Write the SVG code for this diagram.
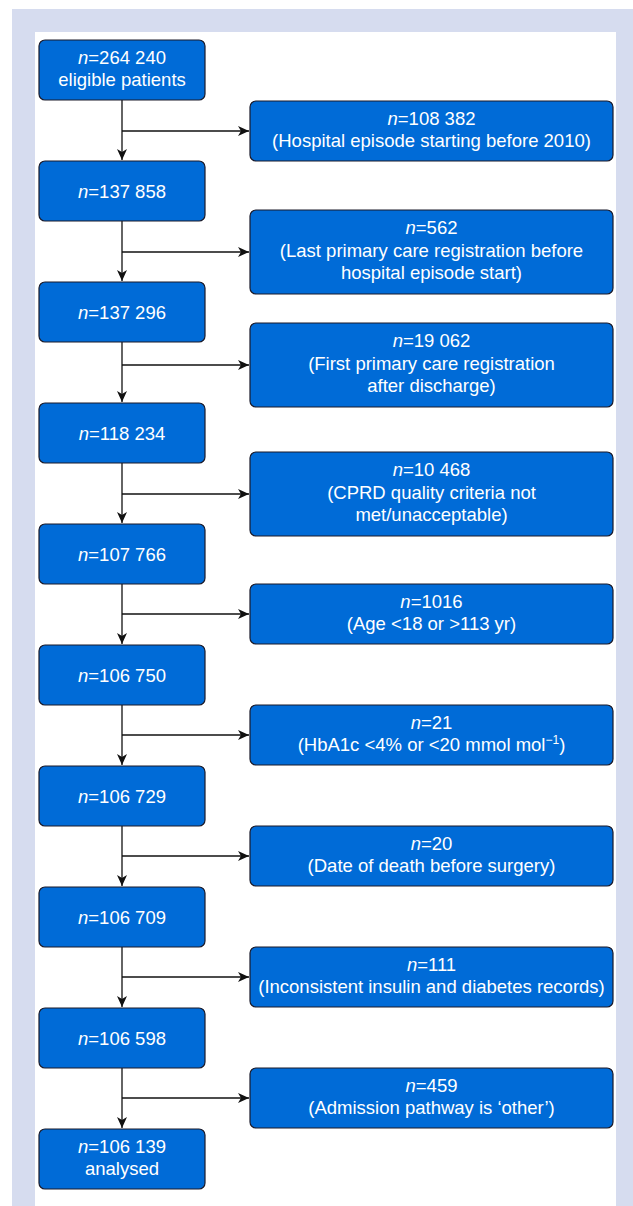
<svg xmlns="http://www.w3.org/2000/svg" width="633" height="1206" viewBox="0 0 633 1206">
<style>
.box{fill:#006bd7;stroke:#1a1a2a;stroke-width:1.2}
.t{font-family:"Liberation Sans",Arial,sans-serif;font-size:18.5px;fill:#ffffff;text-anchor:middle}
.i{font-style:italic}
.c{fill:none;stroke:#111;stroke-width:1.3}
</style>
<defs>
<marker id="ah" markerUnits="userSpaceOnUse" markerWidth="12" markerHeight="10" refX="11" refY="5" orient="auto">
<path d="M0,0 L11,5 L0,10 L3,5 z" fill="#111"/>
</marker>
</defs>
<rect x="12" y="9" width="621" height="1197" fill="#d6dcef"/>
<rect x="35" y="32" width="581" height="1174" fill="#ffffff"/>
<g id="connectors">
<path class="c" d="M122,100 V160" marker-end="url(#ah)"/>
<path class="c" d="M122,221 V281" marker-end="url(#ah)"/>
<path class="c" d="M122,342 V402" marker-end="url(#ah)"/>
<path class="c" d="M122,463 V523" marker-end="url(#ah)"/>
<path class="c" d="M122,584 V644" marker-end="url(#ah)"/>
<path class="c" d="M122,705 V765" marker-end="url(#ah)"/>
<path class="c" d="M122,826 V886" marker-end="url(#ah)"/>
<path class="c" d="M122,947 V1007" marker-end="url(#ah)"/>
<path class="c" d="M122,1068 V1128" marker-end="url(#ah)"/>
<path class="c" d="M122,131 H249" marker-end="url(#ah)"/>
<path class="c" d="M122,252 H249" marker-end="url(#ah)"/>
<path class="c" d="M122,365 H249" marker-end="url(#ah)"/>
<path class="c" d="M122,494 H249" marker-end="url(#ah)"/>
<path class="c" d="M122,614 H249" marker-end="url(#ah)"/>
<path class="c" d="M122,735 H249" marker-end="url(#ah)"/>
<path class="c" d="M122,856 H249" marker-end="url(#ah)"/>
<path class="c" d="M122,977 H249" marker-end="url(#ah)"/>
<path class="c" d="M122,1098 H249" marker-end="url(#ah)"/>
</g>
<g id="n1"><rect class="box" x="39" y="40" width="166" height="60" rx="6"/><text class="t" x="122" y="64"><tspan class="i">n</tspan>=264 240</text><text class="t" x="122" y="86">eligible patients</text></g>
<g id="n2"><rect class="box" x="39" y="161" width="166" height="60" rx="6"/><text class="t" x="122" y="197.5"><tspan class="i">n</tspan>=137 858</text></g>
<g id="n3"><rect class="box" x="39" y="282" width="166" height="60" rx="6"/><text class="t" x="122" y="318.5"><tspan class="i">n</tspan>=137 296</text></g>
<g id="n4"><rect class="box" x="39" y="403" width="166" height="60" rx="6"/><text class="t" x="122" y="439.5"><tspan class="i">n</tspan>=118 234</text></g>
<g id="n5"><rect class="box" x="39" y="524" width="166" height="60" rx="6"/><text class="t" x="122" y="560.5"><tspan class="i">n</tspan>=107 766</text></g>
<g id="n6"><rect class="box" x="39" y="645" width="166" height="60" rx="6"/><text class="t" x="122" y="681.5"><tspan class="i">n</tspan>=106 750</text></g>
<g id="n7"><rect class="box" x="39" y="766" width="166" height="60" rx="6"/><text class="t" x="122" y="802.5"><tspan class="i">n</tspan>=106 729</text></g>
<g id="n8"><rect class="box" x="39" y="887" width="166" height="60" rx="6"/><text class="t" x="122" y="923.5"><tspan class="i">n</tspan>=106 709</text></g>
<g id="n9"><rect class="box" x="39" y="1008" width="166" height="60" rx="6"/><text class="t" x="122" y="1044.5"><tspan class="i">n</tspan>=106 598</text></g>
<g id="n10"><rect class="box" x="39" y="1129" width="166" height="60" rx="6"/><text class="t" x="122" y="1153"><tspan class="i">n</tspan>=106 139</text><text class="t" x="122" y="1175">analysed</text></g>
<g id="e1"><rect class="box" x="250" y="101" width="363" height="60" rx="6"/><text class="t" x="431.5" y="125"><tspan class="i">n</tspan>=108 382</text><text class="t" x="431.5" y="147">(Hospital episode starting before 2010)</text></g>
<g id="e2"><rect class="box" x="250" y="210" width="363" height="84" rx="6"/><text class="t" x="431.5" y="234"><tspan class="i">n</tspan>=562</text><text class="t" x="431.5" y="257">(Last primary care registration before</text><text class="t" x="431.5" y="279">hospital episode start)</text></g>
<g id="e3"><rect class="box" x="250" y="323" width="363" height="84" rx="6"/><text class="t" x="431.5" y="347"><tspan class="i">n</tspan>=19 062</text><text class="t" x="431.5" y="370">(First primary care registration</text><text class="t" x="431.5" y="392">after discharge)</text></g>
<g id="e4"><rect class="box" x="250" y="452" width="363" height="84" rx="6"/><text class="t" x="431.5" y="476"><tspan class="i">n</tspan>=10 468</text><text class="t" x="431.5" y="499">(CPRD quality criteria not</text><text class="t" x="431.5" y="521">met/unacceptable)</text></g>
<g id="e5"><rect class="box" x="250" y="584" width="363" height="60" rx="6"/><text class="t" x="431.5" y="608"><tspan class="i">n</tspan>=1016</text><text class="t" x="431.5" y="630">(Age &lt;18 or &gt;113 yr)</text></g>
<g id="e6"><rect class="box" x="250" y="705" width="363" height="60" rx="6"/><text class="t" x="431.5" y="729"><tspan class="i">n</tspan>=21</text><text class="t" x="431.5" y="751">(HbA1c &lt;4% or &lt;20 mmol mol<tspan font-size="12" dy="-7">−1</tspan><tspan dy="7">)</tspan></text></g>
<g id="e7"><rect class="box" x="250" y="826" width="363" height="60" rx="6"/><text class="t" x="431.5" y="850"><tspan class="i">n</tspan>=20</text><text class="t" x="431.5" y="872">(Date of death before surgery)</text></g>
<g id="e8"><rect class="box" x="250" y="947" width="363" height="60" rx="6"/><text class="t" x="431.5" y="971"><tspan class="i">n</tspan>=111</text><text class="t" x="431.5" y="993">(Inconsistent insulin and diabetes records)</text></g>
<g id="e9"><rect class="box" x="250" y="1068" width="363" height="60" rx="6"/><text class="t" x="431.5" y="1092"><tspan class="i">n</tspan>=459</text><text class="t" x="431.5" y="1114">(Admission pathway is ‘other’)</text></g>
</svg>
